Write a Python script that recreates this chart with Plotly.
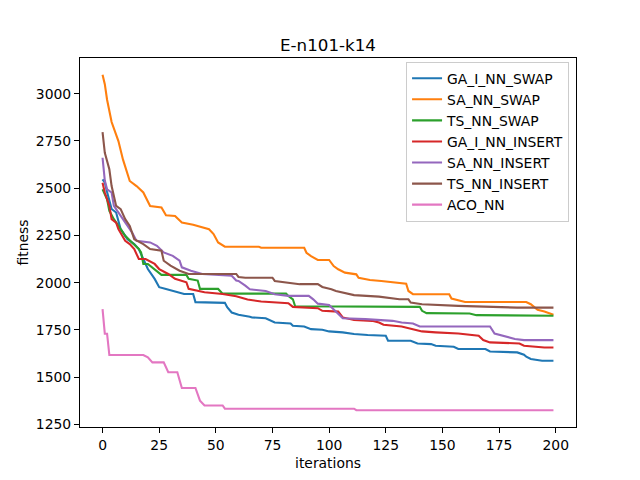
import plotly.graph_objects as go

# polyline vertices (iteration, fitness)
ga_swap_it = [0, 1, 2, 3, 4, 6, 8, 11, 14, 16, 18, 20, 23, 25, 28, 31, 36, 40, 41, 54, 55, 57, 60, 65, 66,
              72, 74, 76, 83, 84, 89, 92, 97, 100, 106, 111, 117, 125, 126, 136, 139, 145, 147, 155, 157,
              169, 171, 183, 186, 187, 189, 194, 199]
ga_swap_val = [2547, 2530, 2480, 2441, 2390, 2371, 2283, 2230, 2204, 2178, 2125, 2072, 2020, 1976, 1967,
               1958, 1940, 1940, 1897, 1893, 1870, 1842, 1830, 1820, 1816, 1812, 1802, 1789, 1784, 1772,
               1768, 1754, 1751, 1742, 1737, 1728, 1723, 1719, 1693, 1693, 1678, 1675, 1666, 1661, 1649,
               1649, 1636, 1631, 1619, 1608, 1596, 1587, 1587]

sa_swap_it = [0, 1, 2, 4, 7, 9, 12, 15, 18, 21, 26, 28, 32, 35, 40, 47, 49, 51, 54, 69, 70, 89, 90, 92,
              95, 100, 102, 104, 107, 112, 113, 118, 123, 131, 134, 135, 137, 153, 154, 160, 187, 189,
              192, 195, 198, 199]
sa_swap_val = [3100, 3050, 2968, 2850, 2749, 2652, 2538, 2511, 2477, 2406, 2398, 2357, 2353, 2318, 2306,
               2283, 2257, 2213, 2190, 2190, 2185, 2185, 2158, 2140, 2120, 2120, 2088, 2071, 2053, 2044,
               2026, 2014, 2009, 2000, 1995, 1956, 1939, 1939, 1916, 1898, 1898, 1886, 1856, 1847, 1833,
               1830]

ts_swap_it = [0, 2, 3, 5, 8, 10, 13, 16, 17, 18, 20, 23, 26, 37, 38, 42, 43, 51, 53, 81, 82, 84, 85,
              140, 141, 143, 162, 165, 199]
ts_swap_val = [2494, 2441, 2380, 2336, 2283, 2248, 2213, 2178, 2160, 2099, 2099, 2072, 2041, 2041, 2020,
               2011, 1967, 1967, 1942, 1942, 1930, 1912, 1875, 1872, 1851, 1839, 1837, 1828, 1825]

ga_ins_it = [0, 1, 3, 4, 6, 7, 10, 12, 14, 16, 19, 23, 25, 29, 32, 37, 38, 45, 53, 59, 64, 70, 82, 84,
             95, 97, 104, 106, 111, 119, 122, 124, 132, 135, 141, 147, 157, 166, 168, 171, 184, 186,
             195, 199]
ga_ins_val = [2529, 2477, 2406, 2336, 2318, 2283, 2221, 2204, 2178, 2125, 2125, 2099, 2072, 2046, 2020,
              2002, 1967, 1949, 1940, 1928, 1911, 1900, 1891, 1872, 1865, 1851, 1847, 1816, 1802, 1798,
              1789, 1777, 1768, 1760, 1742, 1737, 1731, 1719, 1696, 1684, 1678, 1666, 1657, 1657]

sa_ins_it = [0, 1, 2, 4, 5, 7, 10, 13, 15, 21, 24, 27, 31, 34, 35, 39, 44, 57, 59, 60, 63, 65, 72, 76,
             82, 91, 93, 95, 100, 102, 104, 106, 116, 128, 132, 137, 140, 171, 173, 180, 182, 186, 199]
sa_ins_val = [2661, 2540, 2494, 2477, 2406, 2371, 2318, 2266, 2221, 2213, 2195, 2160, 2142, 2116, 2081,
              2063, 2046, 2037, 2011, 2009, 1984, 1965, 1956, 1939, 1930, 1930, 1912, 1889, 1882, 1860,
              1833, 1812, 1807, 1798, 1789, 1784, 1768, 1768, 1731, 1710, 1702, 1696, 1696]

ts_ins_it = [0, 1, 3, 4, 6, 8, 10, 12, 14, 18, 21, 26, 27, 30, 34, 38, 59, 60, 63, 75, 76, 87, 95, 97,
             101, 103, 111, 122, 131, 135, 136, 141, 157, 183, 199]
ts_ins_val = [2796, 2687, 2600, 2511, 2406, 2389, 2336, 2300, 2230, 2204, 2178, 2169, 2116, 2090, 2063,
              2046, 2046, 2030, 2026, 2026, 2009, 1992, 1992, 1977, 1965, 1956, 1934, 1926, 1912, 1912,
              1895, 1886, 1877, 1868, 1868]

aco_it = [0, 1, 2, 3, 18, 20, 22, 27, 29, 33, 35, 41, 43, 45, 53, 54, 111, 112, 199]
aco_val = [1860, 1730, 1730, 1617, 1617, 1605, 1578, 1578, 1526, 1526, 1443, 1443, 1376, 1350, 1350,
           1333, 1333, 1325, 1325]

series = [
    ("GA_I_NN_SWAP", ga_swap_it, ga_swap_val, "#1f77b4"),
    ("SA_NN_SWAP", sa_swap_it, sa_swap_val, "#ff7f0e"),
    ("TS_NN_SWAP", ts_swap_it, ts_swap_val, "#2ca02c"),
    ("GA_I_NN_INSERT", ga_ins_it, ga_ins_val, "#d62728"),
    ("SA_NN_INSERT", sa_ins_it, sa_ins_val, "#9467bd"),
    ("TS_NN_INSERT", ts_ins_it, ts_ins_val, "#8c564b"),
    ("ACO_NN", aco_it, aco_val, "#e377c2"),
]

fig = go.Figure()
for name, xs, ys, col in series:
    fig.add_trace(go.Scatter(x=xs, y=ys, mode="lines", name=name,
                             line=dict(color=col, width=2.1)))

fnt = dict(family="DejaVu Sans", size=13.9, color="black")
axis_common = dict(showgrid=False, zeroline=False, showline=True, mirror=True,
                   linecolor="black", linewidth=1, ticks="outside", ticklen=5,
                   tickwidth=1, tickcolor="black", tickfont=fnt, automargin=False)

# page has an 8px body margin, so margins are offset to keep the axes in place
fig.update_layout(
    width=640, height=480,
    margin=dict(l=72, r=72, t=49.6, b=60.8),
    paper_bgcolor="white", plot_bgcolor="white",
    font=fnt,
    title=dict(text="E-n101-k14", x=0.5, xref="paper", xanchor="center",
               y=1 - 43 / 480, yref="container", yanchor="bottom",
               font=dict(family="DejaVu Sans", size=16.7, color="black")),
    xaxis=dict(range=[-9.95, 208.95], tickvals=[0, 25, 50, 75, 100, 125, 150, 175, 200],
               title=dict(text="iterations", font=fnt, standoff=6), **axis_common),
    yaxis=dict(range=[1236.25, 3188.75],
               tickvals=[1250, 1500, 1750, 2000, 2250, 2500, 2750, 3000],
               title=dict(text="fitness", font=fnt, standoff=3), **axis_common),
    legend=dict(x=0.986, xanchor="right", y=0.99, yanchor="top",
                bgcolor="white", bordercolor="#cccccc", borderwidth=1, font=fnt),
    showlegend=True,
)

fig.write_html("out.html")
